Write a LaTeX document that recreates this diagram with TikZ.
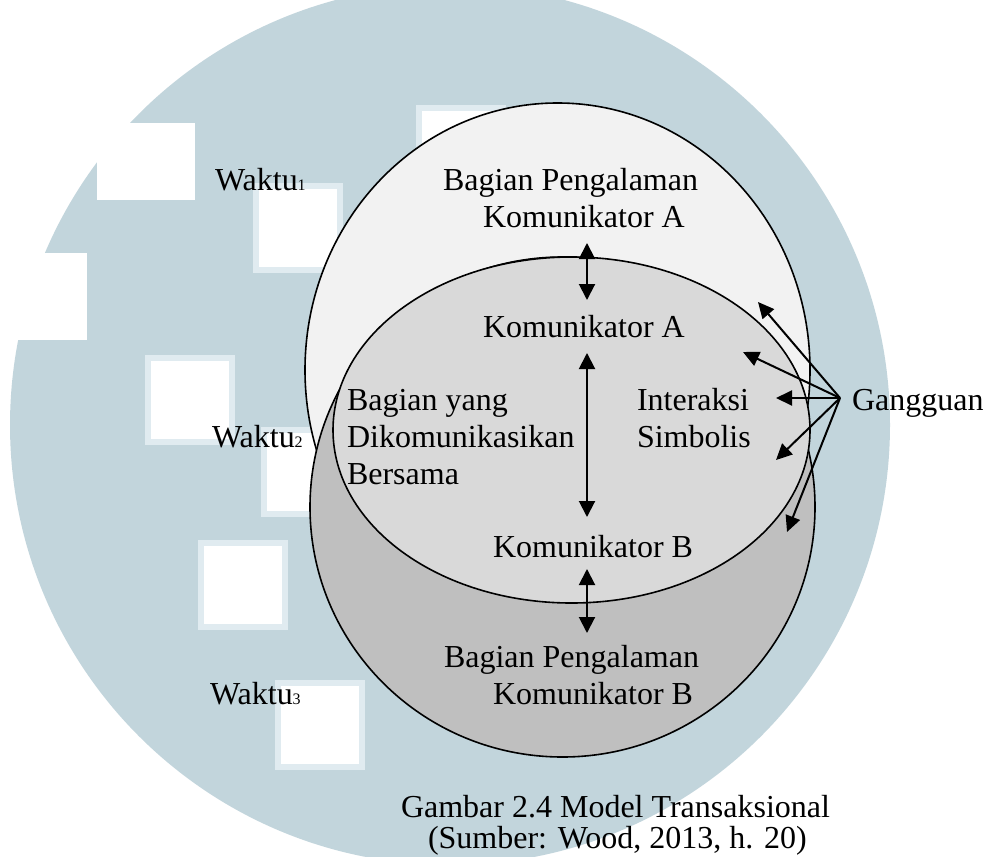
\documentclass[tikz,border=0pt]{standalone}
\usepackage{fontspec}
\setmainfont{Liberation Serif}
\usetikzlibrary{arrows.meta}
\definecolor{wmblue}{RGB}{194,213,220}
\definecolor{wmedge}{RGB}{224,235,240}
\definecolor{fillA}{RGB}{242,242,242}
\definecolor{fillC}{RGB}{217,217,217}
\definecolor{fillB}{RGB}{191,191,191}
\newcommand\wsub[1]{{\fontsize{16}{16}\selectfont #1}}
\begin{document}
\begin{tikzpicture}[x=1pt,y=-1pt,
  txt/.style={inner sep=0pt,outer sep=0pt,anchor=base west,font=\fontsize{32}{37}\selectfont},
  sq/.style={fill=white,draw=wmedge,line width=6pt},
  ell/.style={draw=black,line width=1.6pt},
  dbl/.style={{Triangle[length=16pt,width=16pt]}-{Triangle[length=16pt,width=16pt]},line width=2pt},
  noise/.style={-{Triangle[length=16pt,width=15pt]},line width=2pt}]
\useasboundingbox (0,0) rectangle (987,856);
\clip (0,0) rectangle (987,856);
\fill[white] (0,0) rectangle (987,856);
% watermark
\fill[wmblue] (450,425) circle[radius=440];
\fill[white] (97,123) rectangle (195,200);
\fill[white] (-10,253) rectangle (87,340);
\foreach \cx/\cy in {461/150, 298/228, 190/400, 306/472, 243/585, 320/725}
  \draw[sq] (\cx-42,\cy-42) rectangle (\cx+42,\cy+42);
% ellipses
\draw[ell,fill=fillA] (557.5,370) ellipse [x radius=252.5, y radius=267];
\draw[ell,fill=fillB] (562.5,507) ellipse [x radius=252.5, y radius=250];
\draw[ell,fill=fillC] (571.5,430) ellipse [x radius=238.5, y radius=173];
% texts
\node[txt] (wk1) at (215,190) {Waktu\wsub{1}};
\node[txt] (wk2) at (212,447) {Waktu\wsub{2}};
\node[txt] (wk3) at (210,704) {Waktu\wsub{3}};
\node[txt] (bpa1) at (443,190) {Bagian Pengalaman};
\node[txt] (bpa2) at (483,227) {Komunikator A};
\node[txt] (ka) at (483,337) {Komunikator A};
\node[txt] (by1) at (347,410) {Bagian yang};
\node[txt] (by2) at (347,447) {Dikomunikasikan};
\node[txt] (by3) at (347,484) {Bersama};
\node[txt] (is1) at (637,410) {Interaksi};
\node[txt] (is2) at (637,447) {Simbolis};
\node[txt] (kb) at (493,557) {Komunikator B};
\node[txt] (bpb1) at (444,667) {Bagian Pengalaman};
\node[txt] (bpb2) at (493,704) {Komunikator B};
\node[txt] (gg) at (852,410) {Gangguan};
\node[txt] (cap1) at (401,817) {Gambar 2.4 Model Transaksional};
\node[txt] (cap2) at (428,848) {(Sumber: Wood, 2013, h. 20)};
% vertical arrows
\coordinate (a1) at (587,243); \coordinate (a2) at (587,300);
\coordinate (m1) at (587,353); \coordinate (m2) at (587,517);
\coordinate (b1) at (587,569); \coordinate (b2) at (587,633);
\draw[dbl] (a1) -- (a2);
\draw[dbl] (m1) -- (m2);
\draw[dbl] (b1) -- (b2);
% noise arrows
\coordinate (gap) at (840,398);
\coordinate (n1) at (758,302);
\coordinate (n2) at (743,352);
\coordinate (n3) at (776,398);
\coordinate (n4) at (776,460);
\coordinate (n5) at (787,532);
\foreach \t in {n1,n2,n3,n4,n5}
  \draw[noise] (gap) -- (\t);
\end{tikzpicture}
\end{document}
